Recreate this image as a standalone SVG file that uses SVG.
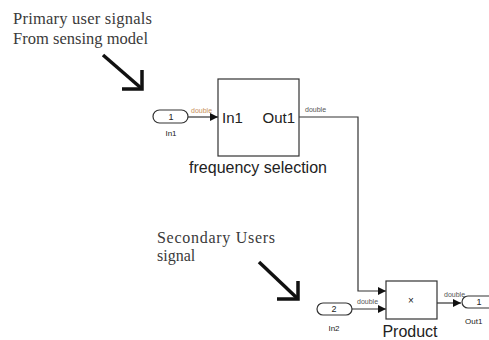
<svg xmlns="http://www.w3.org/2000/svg" width="489" height="340" viewBox="0 0 489 340">
<style>
.blk{fill:#fff;stroke:#333;stroke-width:1.2}
.port{fill:#fff;stroke:#333;stroke-width:1.2}
.wire{fill:none;stroke:#333;stroke-width:1.2}
.ann{font-family:"Liberation Serif",serif;font-size:16.5px;fill:#3a3a3a}
.ann2{font-family:"Liberation Serif",serif;font-size:16px;fill:#3a3a3a}
.lbl{font-family:"Liberation Sans",Arial,sans-serif;fill:#222}
.sig{font-family:"Liberation Sans",Arial,sans-serif;font-size:7px;fill:#555}
.big{stroke:#111;stroke-width:3.5;fill:none}
</style>
<defs>
<marker id="ah" viewBox="0 0 10 10" refX="10" refY="5" markerWidth="8" markerHeight="8" markerUnits="userSpaceOnUse" orient="auto">
<path d="M0,0 L10,5 L0,10 z" fill="#111"/>
</marker>
</defs>
<rect width="489" height="340" fill="#fff"/>
<g id="annotation1">
<text class="ann" x="13" y="24" textLength="139">Primary user signals</text>
<text class="ann" x="13" y="44" textLength="135">From sensing model</text>
<line class="big" x1="103" y1="55" x2="141" y2="88"/>
<polyline class="big" points="122,89 142,89 142,70"/>
</g>
<g id="annotation2">
<text class="ann2" x="157" y="243" textLength="118">Secondary Users</text>
<text class="ann2" x="157" y="261">signal</text>
<line class="big" x1="259" y1="262" x2="297" y2="298"/>
<polyline class="big" points="277,299 298,299 298,281"/>
</g>
<g id="connectors">
<path class="wire" d="M188,117 H218" marker-end="url(#ah)"/>
<text class="sig" x="191" y="113" style="fill:#c8905a">double</text>
<path class="wire" d="M299,117 H358 V291 H386" marker-end="url(#ah)"/>
<text class="sig" x="305" y="112">double</text>
<path class="wire" d="M352,309 H386" marker-end="url(#ah)"/>
<text class="sig" x="357" y="304">double</text>
<path class="wire" d="M437,303 H461" marker-end="url(#ah)"/>
<text class="sig" x="444" y="297">double</text>
</g>
<g id="in1">
<rect class="port" x="153" y="110" width="35" height="13" rx="6.5"/>
<text class="lbl" x="171" y="120" font-size="9" text-anchor="middle">1</text>
<text class="lbl" x="171" y="136" font-size="8" text-anchor="middle">In1</text>
</g>
<g id="frequency-selection">
<rect class="blk" x="218" y="79" width="81" height="77"/>
<text class="lbl" x="222" y="123" font-size="15">In1</text>
<text class="lbl" x="295" y="123" font-size="15" text-anchor="end">Out1</text>
<text class="lbl" x="258" y="173" font-size="16" text-anchor="middle">frequency selection</text>
</g>
<g id="in2">
<rect class="port" x="317" y="303" width="35" height="12" rx="6"/>
<text class="lbl" x="334" y="312" font-size="9" text-anchor="middle">2</text>
<text class="lbl" x="334" y="331" font-size="8" text-anchor="middle">In2</text>
</g>
<g id="product">
<rect class="blk" x="386" y="281" width="51" height="38"/>
<text class="lbl" x="411" y="304" font-size="10" text-anchor="middle">×</text>
<text class="lbl" x="410" y="337" font-size="16" text-anchor="middle">Product</text>
</g>
<g id="out1">
<rect class="port" x="462" y="296" width="40" height="12" rx="6"/>
<text class="lbl" x="479" y="305" font-size="9" text-anchor="middle">1</text>
<text class="lbl" x="465" y="324" font-size="8">Out1</text>
</g>
</svg>
